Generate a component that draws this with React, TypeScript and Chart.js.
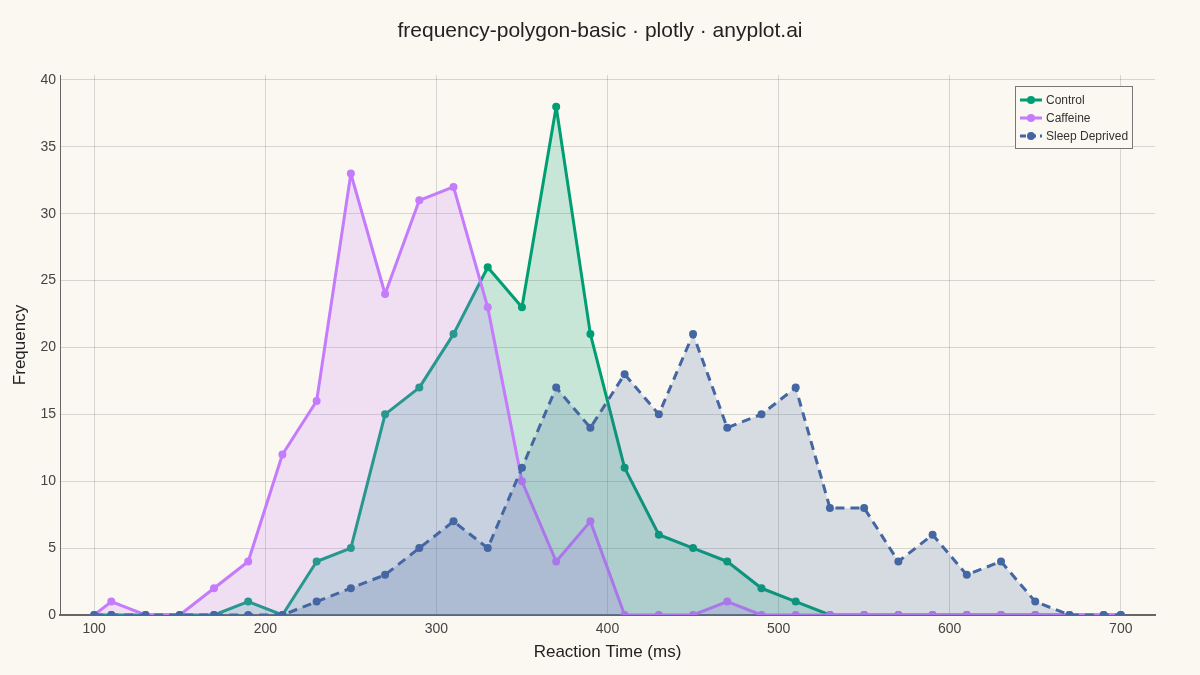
import { useEffect, useRef } from "react"
import { Chart, registerables } from "chart.js"

Chart.register(...registerables)

// bin midpoints (plus the closing end points at 100 and 700)
const reactionTimes = [
  100, 110, 130, 150, 170, 190, 210, 230, 250, 270, 290, 310, 330, 350, 370, 390,
  410, 430, 450, 470, 490, 510, 530, 550, 570, 590, 610, 630, 650, 670, 690, 700,
]
const controlCounts = [
  0, 0, 0, 0, 0, 1, 0, 4, 5, 15, 17, 21, 26, 23, 38, 21,
  11, 6, 5, 4, 2, 1, 0, 0, 0, 0, 0, 0, 0, 0, 0, 0,
]
const caffeineCounts = [
  0, 1, 0, 0, 2, 4, 12, 16, 33, 24, 31, 32, 23, 10, 4, 7,
  0, 0, 0, 1, 0, 0, 0, 0, 0, 0, 0, 0, 0, 0, 0, 0,
]
const sleepCounts = [
  0, 0, 0, 0, 0, 0, 0, 1, 2, 3, 5, 7, 5, 11, 17, 14,
  18, 15, 21, 14, 15, 17, 8, 8, 4, 6, 3, 4, 1, 0, 0, 0,
]
const xTicks = [100, 200, 300, 400, 500, 600, 700]
const yTicks = [0, 5, 10, 15, 20, 25, 30, 35, 40]

const FONT = "'Liberation Sans', Arial, Helvetica, sans-serif"
const BG = "#faf8f1"

const series = [
  { label: "Control", values: controlCounts, color: "#009e73", fill: "rgba(0,158,115,0.2)", dash: [] as number[] },
  { label: "Caffeine", values: caffeineCounts, color: "#c47bfc", fill: "rgba(199,125,255,0.2)", dash: [] as number[] },
  { label: "Sleep Deprived", values: sleepCounts, color: "#4467a3", fill: "rgba(68,103,163,0.2)", dash: [9, 6] },
]

const decorPlugin = {
  id: "decor",
  beforeDraw(chart: Chart) {
    const { ctx, width, height } = chart
    ctx.save()
    ctx.fillStyle = BG
    ctx.fillRect(0, 0, width, height)
    ctx.restore()
  },
  afterDraw(chart: Chart) {
    const { ctx } = chart
    ctx.save()
    // title
    ctx.fillStyle = "#222"
    ctx.font = `21px ${FONT}`
    ctx.textAlign = "center"
    ctx.textBaseline = "middle"
    ctx.fillText("frequency-polygon-basic · plotly · anyplot.ai", 600, 31)

    // legend
    const bx = 1015.5, by = 86.5, bw = 117, bh = 62
    ctx.fillStyle = BG
    ctx.fillRect(bx, by, bw, bh)
    ctx.strokeStyle = "#777"
    ctx.lineWidth = 1
    ctx.strokeRect(bx, by, bw, bh)
    ctx.font = `12px ${FONT}`
    ctx.textAlign = "left"
    series.forEach((s, i) => {
      const y = 100 + i * 18
      ctx.strokeStyle = s.color
      ctx.lineWidth = 3
      ctx.setLineDash(s.dash.length ? [6, 4] : [])
      ctx.beginPath()
      ctx.moveTo(1020, y)
      ctx.lineTo(1042, y)
      ctx.stroke()
      ctx.setLineDash([])
      ctx.fillStyle = s.color
      ctx.beginPath()
      ctx.arc(1031, y, 4, 0, Math.PI * 2)
      ctx.fill()
      ctx.fillStyle = "#333"
      ctx.fillText(s.label, 1046, y + 1)
    })
    ctx.restore()
  },
}

export default function App() {
  const canvasRef = useRef<HTMLCanvasElement>(null)
  const chartRef = useRef<Chart | null>(null)

  useEffect(() => {
    if (!canvasRef.current) return
    if (chartRef.current) chartRef.current.destroy()

    chartRef.current = new Chart(canvasRef.current, {
      type: "line",
      data: {
        datasets: series.map((s, i) => ({
          label: s.label,
          data: reactionTimes.map((x, j) => ({ x, y: s.values[j] })),
          borderColor: s.color,
          backgroundColor: s.fill,
          borderWidth: 3,
          borderDash: s.dash,
          borderJoinStyle: "round" as const,
          fill: "origin",
          tension: 0,
          pointRadius: 4,
          pointHoverRadius: 4,
          pointBackgroundColor: s.color,
          pointBorderWidth: 0,
          // first series at the bottom, later fills over earlier lines
          order: series.length - i,
        })),
      },
      plugins: [decorPlugin],
      options: {
        animation: false,
        responsive: true,
        maintainAspectRatio: false,
        layout: { padding: { top: 75, right: 45, left: 0, bottom: 0 } },
        plugins: {
          legend: { display: false },
          title: { display: false },
          tooltip: { enabled: false },
        },
        scales: {
          x: {
            type: "linear",
            min: 80,
            max: 720,
            afterBuildTicks: (scale) => {
              scale.ticks = xTicks.map((value) => ({ value }))
            },
            afterFit: (scale) => {
              scale.height = 60
            },
            grid: { color: "rgba(0,0,0,0.14)", lineWidth: 1, drawTicks: false },
            border: { display: true, color: "#666", width: 2 },
            ticks: { color: "#444", font: { family: FONT, size: 14 }, padding: 6, maxRotation: 0 },
            title: {
              display: true,
              text: "Reaction Time (ms)",
              color: "#222",
              font: { family: FONT, size: 17 },
              padding: { top: 4, bottom: 12 },
            },
          },
          y: {
            type: "linear",
            min: 0,
            max: 40.37,
            afterBuildTicks: (scale) => {
              scale.ticks = yTicks.map((value) => ({ value }))
            },
            afterFit: (scale) => {
              scale.width = 60
            },
            grid: { color: "rgba(0,0,0,0.14)", lineWidth: 1, drawTicks: false },
            border: { display: true, color: "#666", width: 1 },
            ticks: { color: "#444", font: { family: FONT, size: 14 }, padding: 4 },
            title: {
              display: true,
              text: "Frequency",
              color: "#222",
              font: { family: FONT, size: 17 },
              padding: { top: 10, bottom: 4 },
            },
          },
        },
      },
    })

    return () => {
      if (chartRef.current) {
        chartRef.current.destroy()
        chartRef.current = null
      }
    }
  }, [])

  return (
    <div style={{ position: "fixed", left: 0, top: 0, width: 1200, height: 675, background: BG }}>
      <canvas ref={canvasRef} />
    </div>
  )
}
